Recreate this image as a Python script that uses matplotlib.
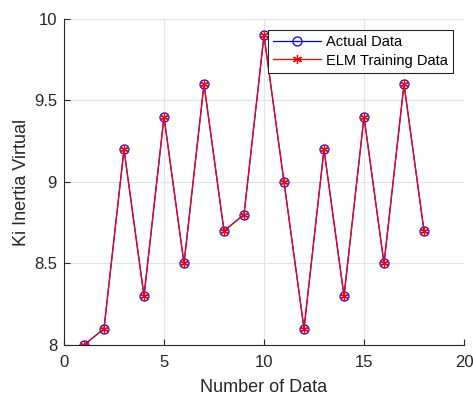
import matplotlib
matplotlib.use('Agg')
import matplotlib.pyplot as plt
import numpy as np

plt.rcParams['font.family'] = ['Liberation Sans', 'DejaVu Sans']

# datos
n_data = np.arange(1, 19)
actual = [8.0, 8.1, 9.2, 8.3, 9.4, 8.5, 9.6, 8.7, 8.8, 9.9, 9.0, 8.1, 9.2, 8.3, 9.4, 8.5, 9.6, 8.7]
elm = [8.0, 8.1, 9.2, 8.3, 9.4, 8.5, 9.6, 8.7, 8.8, 9.9, 9.0, 8.1, 9.2, 8.3, 9.4, 8.5, 9.6, 8.7]

fig = plt.figure(figsize=(4.73, 3.94), dpi=100)
ax = fig.add_axes([0.1353, 0.1244, 0.8457, 0.8274])

# asterisco estilo MATLAB
asterisk = (6, 2, 0)

ax.plot(n_data, actual, '-o', color='blue', linewidth=0.9, markersize=6.5,
        markerfacecolor='none', markeredgewidth=0.9, label='Actual Data')
ax.plot(n_data, elm, '-', marker=asterisk, color='red', linewidth=0.9,
        markersize=6.5, markeredgewidth=0.9, label='ELM Training Data')

ax.set_xlim(0, 20)
ax.set_ylim(8, 10)
ax.set_xticks([0, 5, 10, 15, 20])
ax.set_yticks([8, 8.5, 9, 9.5, 10])
ax.set_yticklabels(['8', '8.5', '9', '9.5', '10'])
ax.grid(True, color='#e3e3e3', linewidth=0.8)
ax.set_axisbelow(True)

for s in ['top', 'right']:
    ax.spines[s].set_visible(False)
for s in ['left', 'bottom']:
    ax.spines[s].set_color('#262626')
    ax.spines[s].set_linewidth(0.8)
ax.tick_params(direction='in', length=4, width=0.8, color='#262626',
               labelsize=12, labelcolor='#262626')
ax.tick_params(axis='x', pad=7)
ax.tick_params(axis='y', pad=5)

ax.set_xlabel('Number of Data', fontsize=13, color='#262626', labelpad=7)
ax.set_ylabel('Ki Inertia Virtual', fontsize=13, color='#262626', labelpad=3)

leg = ax.legend(loc='upper right', bbox_to_anchor=(0.9725, 0.966), fontsize=10.5,
                frameon=True, fancybox=False, edgecolor='#262626',
                borderpad=0.35, handlelength=3.3, labelspacing=0.3,
                handletextpad=0.35, borderaxespad=0, framealpha=1)
leg.get_frame().set_linewidth(0.8)

plt.savefig('out.png', dpi=100)
